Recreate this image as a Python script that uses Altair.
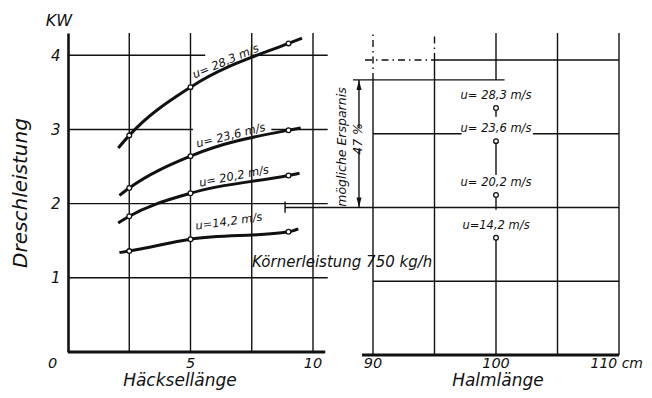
import altair as alt
import pandas as pd

# ---------------- data ----------------
speed_labels = ["u= 28,3 m/s", "u= 23,6 m/s", "u= 20,2 m/s", "u=14,2 m/s"]

# Häcksellänge (x) and Dreschleistung kW (y) along each curve
x_283 = [2.05, 2.5, 5.0, 9.0, 9.55]
y_283 = [2.75, 2.92, 3.57, 4.16, 4.23]
x_236 = [2.10, 2.5, 5.0, 9.0, 9.50]
y_236 = [2.11, 2.21, 2.64, 2.99, 3.02]
x_202 = [2.05, 2.5, 5.0, 9.0, 9.45]
y_202 = [1.74, 1.83, 2.14, 2.38, 2.41]
x_142 = [2.10, 2.5, 5.0, 9.0, 9.40]
y_142 = [1.34, 1.36, 1.52, 1.62, 1.66]
measured = [False, True, True, True, False]

# right panel: Halmlänge 100 cm
halm_x = [100, 100, 100, 100]
halm_y = [3.35, 2.90, 2.17, 1.59]
stem_end = [3.23, 2.44, 1.97, 0.0]

# savings arrow (kW)
save_top = 3.73
save_bottom = 2.00

left_ticks = ["0", "5", "10"]
left_tick_pos = [-0.63, 5, 10]
right_ticks = [90, 100]
right_tick_labels = ["90", "100"]
right_last = ["110 cm"]
y_ticks = [1, 2, 3, 4]

# ---------------- scales ----------------
W, H = 557, 319
XL = alt.Scale(domain=[0, W / 24.5], nice=False, zero=False)
XR = alt.Scale(domain=[90 - 305 / 12.3, 90 - 305 / 12.3 + W / 12.3], nice=False, zero=False)
YL = alt.Scale(domain=[0, 4.3], nice=False, zero=False)
YR = alt.Scale(domain=[0.041, 4.366], nice=False, zero=False)

INK = "#111111"
FONT = "DejaVu Sans"


def enc(xs, ys, xf="x", yf="y", x2=None, y2=None, **kw):
    e = dict(
        x=alt.X(xf, type="quantitative", scale=xs, axis=None),
        y=alt.Y(yf, type="quantitative", scale=ys, axis=None),
    )
    if x2:
        e["x2"] = alt.X2(x2)
    if y2:
        e["y2"] = alt.Y2(y2)
    e.update(kw)
    return e


def txt(df, xs, ys, size, **mk):
    return alt.Chart(df).mark_text(font=FONT, fontSize=size, fontStyle="italic", color=INK, **mk).encode(
        **enc(xs, ys, text="t:N"))


layers = []

# ---- left panel grid ----
hl = pd.DataFrame({
    "x": [0, 7.5, 0, 8.3, 0, 0],
    "x2": [5.6, 10.6, 5.1, 10.6, 10.6, 10.6],
    "y": [4, 4, 3, 3, 2, 1],
})
layers.append(
    alt.Chart(hl).mark_rule(color=INK, strokeWidth=1.4).encode(
        x=alt.X("x", type="quantitative", scale=XL, axis=None),
        x2=alt.X2("x2"),
        y=alt.Y("y", type="quantitative", scale=YL,
                axis=alt.Axis(orient="left", values=y_ticks, grid=False, ticks=False,
                              domain=True, domainColor=INK, domainWidth=2.6,
                              labelFont=FONT, labelFontSize=15, labelFontStyle="italic",
                              labelColor=INK, labelPadding=8,
                              title="Dreschleistung", titleFont=FONT, titleFontSize=20,
                              titleFontStyle="italic", titleFontWeight="normal",
                              titleColor=INK, titlePadding=20)),
    )
)
vl = pd.DataFrame({"x": [2.5, 5, 7.5, 10], "y": [0] * 4, "y2": [4.3] * 4})
layers.append(alt.Chart(vl).mark_rule(color=INK, strokeWidth=1.4).encode(**enc(XL, YL, y2="y2")))
base_l = pd.DataFrame({"x": [0], "x2": [10.5], "y": [0]})
layers.append(alt.Chart(base_l).mark_rule(color=INK, strokeWidth=3).encode(**enc(XL, YL, x2="x2")))

# ---- right panel grid ----
hr = pd.DataFrame({
    "x": [95, 90, 103, 82.85, 90],
    "x2": [110, 97.2, 110, 110, 110],
    "y": [4, 3, 3, save_bottom, 1],
})
layers.append(alt.Chart(hr).mark_rule(color=INK, strokeWidth=1.4).encode(**enc(XR, YR, x2="x2")))
hr_dash = pd.DataFrame({"x": [89.35], "x2": [95], "y": [4]})
layers.append(alt.Chart(hr_dash).mark_rule(color=INK, strokeWidth=1.4, strokeDash=[7, 4, 1.5, 4]).encode(**enc(XR, YR, x2="x2")))
vr = pd.DataFrame({
    "x": [90, 95, 105, 110, 100],
    "y": [0, 0, 0, 0, save_top],
    "y2": [save_top, 4, 4.366, 4.366, 4.366],
})
layers.append(alt.Chart(vr).mark_rule(color=INK, strokeWidth=1.4).encode(**enc(XR, YR, y2="y2")))
vr_dash = pd.DataFrame({"x": [90, 95], "y": [save_top, 4], "y2": [4.366, 4.366]})
layers.append(alt.Chart(vr_dash).mark_rule(color=INK, strokeWidth=1.4, strokeDash=[7, 4, 1.5, 4]).encode(**enc(XR, YR, y2="y2")))
base_r = pd.DataFrame({"x": [89.1], "x2": [110], "y": [0]})
layers.append(alt.Chart(base_r).mark_rule(color=INK, strokeWidth=3).encode(**enc(XR, YR, x2="x2")))

# ---- curves ----
rows = []
for lab, xs, ys in [(speed_labels[0], x_283, y_283), (speed_labels[1], x_236, y_236),
                    (speed_labels[2], x_202, y_202), (speed_labels[3], x_142, y_142)]:
    for xv, yv, m in zip(xs, ys, measured):
        rows.append({"u": lab, "x": xv, "y": yv, "m": m})
curves = pd.DataFrame(rows)
layers.append(
    alt.Chart(curves).mark_line(color=INK, strokeWidth=3, interpolate="monotone").encode(
        **enc(XL, YL, detail="u:N"))
)
layers.append(
    alt.Chart(curves).transform_filter("datum.m").mark_point(
        shape="circle", filled=True, fill="white", stroke=INK, strokeWidth=1.3, size=22, opacity=1
    ).encode(**enc(XL, YL))
)

# curve labels
cl = pd.DataFrame({
    "t": speed_labels,
    "x": [6.45, 6.65, 6.78, 6.57],
    "y": [3.91, 2.91, 2.36, 1.75],
    "a": [337, 346, 349, 352],
})
layers.append(
    alt.Chart(cl).mark_text(font=FONT, fontSize=11.5, fontStyle="italic", color=INK).encode(
        **enc(XL, YL, text="t:N", angle=alt.Angle("a:Q", scale=None)))
)

# ---- right panel points ----
rp = pd.DataFrame({"t": speed_labels, "x": halm_x, "y": halm_y, "y2": stem_end})
layers.append(alt.Chart(rp).mark_rule(color=INK, strokeWidth=1.4).encode(**enc(XR, YR, y2="y2")))
layers.append(
    alt.Chart(rp).mark_point(shape="circle", filled=True, fill="white", stroke=INK,
                             strokeWidth=1.3, size=22, opacity=1).encode(**enc(XR, YR))
)
layers.append(txt(rp, XR, YR, 11.5, dy=-12))

# ---- savings arrow ----
arr = pd.DataFrame({"x": [88.86, 88.86], "y": [save_top, 2.78], "y2": [3.08, save_bottom]})
layers.append(alt.Chart(arr).mark_rule(color=INK, strokeWidth=1.4).encode(**enc(XR, YR, y2="y2")))
layers.append(
    alt.Chart(pd.DataFrame({"x": [88.86], "y": [save_top]})).mark_point(
        shape="M0,0 L-0.5,2 L0.5,2 Z", filled=True, color=INK, size=100, opacity=1
    ).encode(**enc(XR, YR))
)
layers.append(
    alt.Chart(pd.DataFrame({"x": [88.86], "y": [save_bottom]})).mark_point(
        shape="M0,0 L-0.5,-2 L0.5,-2 Z", filled=True, color=INK, size=100, opacity=1
    ).encode(**enc(XR, YR))
)
ref_top = pd.DataFrame({"x": [88.37], "x2": [100.7], "y": [save_top]})
layers.append(alt.Chart(ref_top).mark_rule(color=INK, strokeWidth=1.4).encode(**enc(XR, YR, x2="x2")))
tick = pd.DataFrame({"x": [82.85], "y": [1.93], "y2": [2.08]})
layers.append(alt.Chart(tick).mark_rule(color=INK, strokeWidth=1.4).encode(**enc(XR, YR, y2="y2")))
st = pd.DataFrame({"t": ["mögliche Ersparnis", "47 %"], "x": [87.48, 88.8], "y": [2.82, 2.93]})
layers.append(txt(st, XR, YR, 12.5, angle=270))

# ---- axis texts and annotations (left scale) ----
layers.append(txt(pd.DataFrame({"t": left_ticks, "x": left_tick_pos, "y": [-0.16] * 3}), XL, YL, 14.5))
layers.append(txt(pd.DataFrame({"t": ["Häcksellänge"], "x": [4.57], "y": [-0.458]}), XL, YL, 17,
                  baseline="alphabetic"))
layers.append(txt(pd.DataFrame({"t": ["KW"], "x": [-0.37], "y": [4.46]}), XL, YL, 16))
layers.append(txt(pd.DataFrame({"t": ["Körnerleistung 750 kg/h"], "x": [7.51], "y": [1.21]}), XL, YL, 15,
                  align="left"))

# right axis texts
layers.append(txt(pd.DataFrame({"t": right_tick_labels, "x": right_ticks, "y": [-0.12] * 2}), XR, YR, 14.5))
layers.append(txt(pd.DataFrame({"t": right_last, "x": [110], "y": [-0.12]}), XR, YR, 14,
                  align="right", dx=24))
layers.append(txt(pd.DataFrame({"t": ["Halmlänge"], "x": [100.16], "y": [-0.42]}), XR, YR, 17,
                  baseline="alphabetic"))

chart = (
    alt.layer(*layers)
    .resolve_scale(x="independent", y="independent")
    .properties(width=W, height=H, autosize=alt.AutoSizeParams(type="none"),
                padding={"left": 60, "top": 25, "right": 19, "bottom": 38},
                background="white")
    .configure_view(stroke=None)
)

chart.save("out.html", embed_options={"renderer": "svg", "actions": False})
